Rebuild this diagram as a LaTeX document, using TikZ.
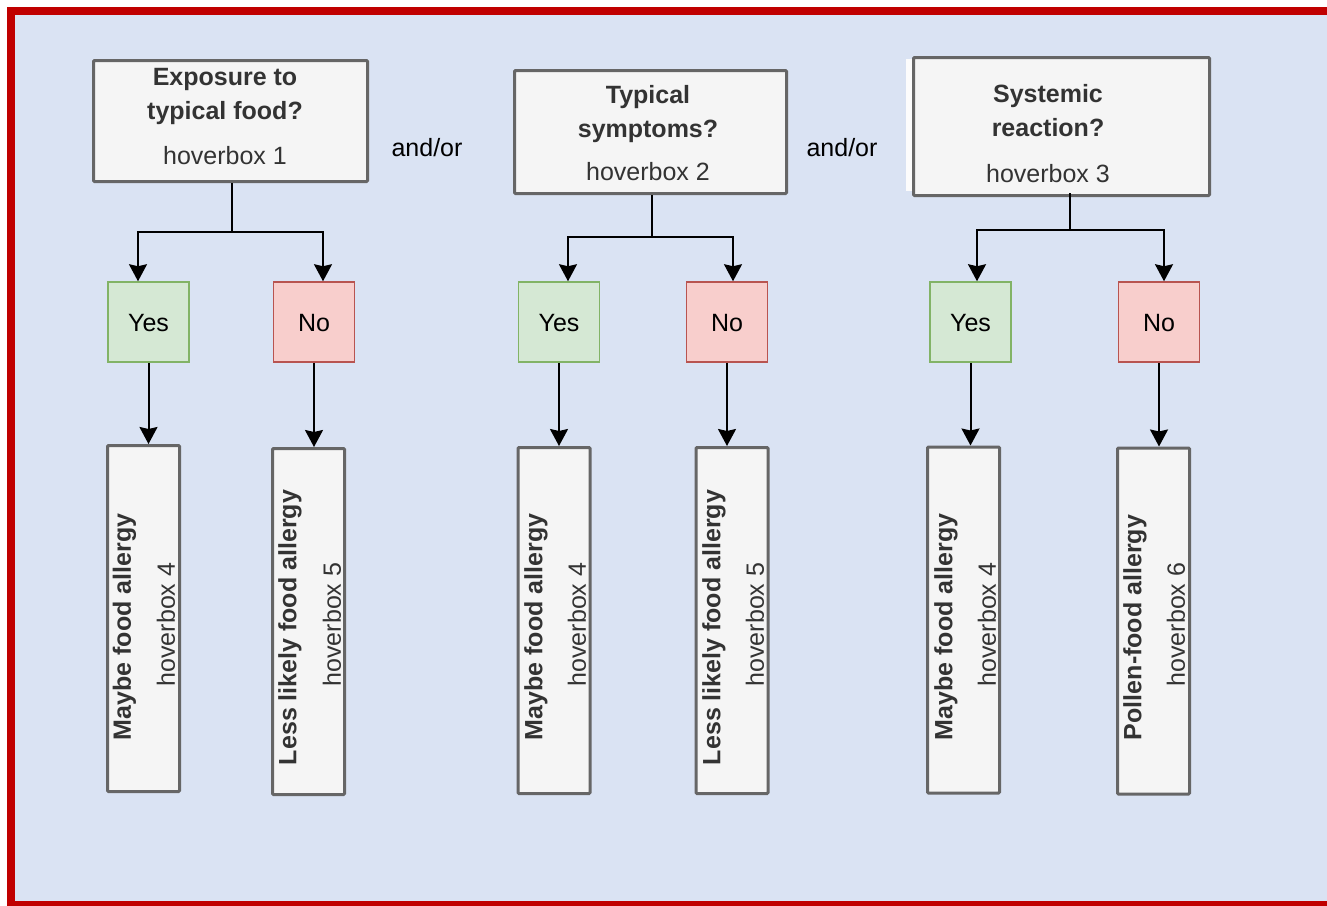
\documentclass[tikz,border=0pt]{standalone}
\usepackage{fontspec}
\setmainfont{Liberation Sans}
\usetikzlibrary{arrows.meta}
\definecolor{bgblue}{RGB}{218,227,243}
\definecolor{framered}{RGB}{192,0,0}
\definecolor{boxfill}{RGB}{245,245,245}
\definecolor{boxline}{RGB}{102,102,102}
\definecolor{gfill}{RGB}{213,232,212}
\definecolor{gline}{RGB}{130,179,102}
\definecolor{rfill}{RGB}{248,206,204}
\definecolor{rline}{RGB}{184,84,80}
\definecolor{txt}{RGB}{51,51,51}
\tikzset{
  fnt/.style={font=\fontsize{25}{30}\selectfont},
  qbox/.style={draw=boxline, fill=boxfill, line width=3pt, rounded corners=1pt, inner sep=0pt},
  yesbox/.style={draw=gline, fill=gfill, line width=1.5pt, minimum width=81pt, minimum height=80pt, inner sep=0pt},
  nobox/.style={draw=rline, fill=rfill, line width=1.5pt, minimum width=81pt, minimum height=80pt, inner sep=0pt},
  tallbox/.style={draw=boxline, fill=boxfill, line width=3pt, rounded corners=1pt, minimum width=72pt, minimum height=346pt, inner sep=0pt},
  btxt/.style={fnt, text=txt, font=\fontsize{25}{30}\selectfont\bfseries, inner sep=0pt, anchor=base},
  htxt/.style={fnt, text=txt, inner sep=0pt, anchor=base},
  ytxt/.style={fnt, text=black, inner sep=0pt, anchor=base},
  vbold/.style={text=txt, font=\fontsize{25}{30}\selectfont\bfseries, inner sep=0pt, rotate=90, anchor=center},
  vhov/.style={text=txt, font=\fontsize{25}{30}\selectfont, inner sep=0pt, rotate=90, anchor=center},
  arr/.style={draw=black, line width=2pt, -{Stealth[length=17pt,width=18pt,inset=2pt]}},
}
\begin{document}
\begin{tikzpicture}[x=1pt,y=-1pt]
\useasboundingbox (0,0) rectangle (1327,905);
\clip (0,0) rectangle (1327,905);
\fill[white] (0,0) rectangle (1327,905);
\draw[framered, line width=8pt, fill=bgblue] (11,11) rectangle (1345,904.5);

% question boxes
\fill[white!70!boxfill] (906,59) rectangle (1204,191);
\node[qbox, minimum width=274pt, minimum height=121pt] (b1) at (230.5,121) {};
\node[qbox, minimum width=272pt, minimum height=123pt] (b2) at (650.5,132) {};
\node[qbox, minimum width=296pt, minimum height=138pt] (b3) at (1061.5,126.5) {};

\node[btxt] (b1a) at (225,85) {Exposure to};
\node[btxt] (b1b) at (225,119) {typical food?};
\node[htxt] (b1c) at (225,164) {hoverbox 1};
\node[btxt] (b2a) at (648,103) {Typical};
\node[btxt] (b2b) at (648,137) {symptoms?};
\node[htxt] (b2c) at (648,180) {hoverbox 2};
\node[btxt] (b3a) at (1048,102) {Systemic};
\node[btxt] (b3b) at (1048,136) {reaction?};
\node[htxt] (b3c) at (1048,182) {hoverbox 3};

\node[ytxt] (ao1) at (427,156) {and/or};
\node[ytxt] (ao2) at (842,156) {and/or};

% yes / no boxes
\node[yesbox] (y1) at (148.5,322) {};
\node[nobox]  (n1) at (314,322) {};
\node[yesbox] (y2) at (559,322) {};
\node[nobox]  (n2) at (727,322) {};
\node[yesbox] (y3) at (970.5,322) {};
\node[nobox]  (n3) at (1159,322) {};
\node[ytxt] (y1t) at (148.5,331) {Yes};
\node[ytxt] (n1t) at (314,331) {No};
\node[ytxt] (y2t) at (559,331) {Yes};
\node[ytxt] (n2t) at (727,331) {No};
\node[ytxt] (y3t) at (970.5,331) {Yes};
\node[ytxt] (n3t) at (1159,331) {No};

% tall result boxes
\node[tallbox] (t1) at (143.5,618.5) {};
\node[tallbox] (t2) at (308.5,621.5) {};
\node[tallbox] (t3) at (554,620.5) {};
\node[tallbox] (t4) at (732,620.5) {};
\node[tallbox] (t5) at (963.5,620) {};
\node[tallbox] (t6) at (1153.5,621) {};

\node[vbold] (t1a) at (124.5,627) {Maybe food allergy};
\node[vhov]  (t1b) at (166,624.5) {hoverbox 4};
\node[vbold] (t2a) at (290,627.5) {Less likely food allergy};
\node[vhov]  (t2b) at (332,624.5) {hoverbox 5};
\node[vbold] (t3a) at (536,627) {Maybe food allergy};
\node[vhov]  (t3b) at (577,624.5) {hoverbox 4};
\node[vbold] (t4a) at (714,627.5) {Less likely food allergy};
\node[vhov]  (t4b) at (755,624.5) {hoverbox 5};
\node[vbold] (t5a) at (946,627) {Maybe food allergy};
\node[vhov]  (t5b) at (987,624.5) {hoverbox 4};
\node[vbold] (t6a) at (1135,627.5) {Pollen-food allergy};
\node[vhov]  (t6b) at (1176,624.5) {hoverbox 6};

% junctions
\coordinate (j1) at (232,232);
\coordinate (j2) at (652,237);
\coordinate (j3) at (1070,230);

\draw[line width=2pt] (b1.south -| j1) -- (j1);
\draw[arr] (j1) -| ([xshift=-10.5pt]y1.north);
\draw[arr] (j1) -| ([xshift=9pt]n1.north);
\draw[line width=2pt] (b2.south -| j2) -- (j2);
\draw[arr] (j2) -| ([xshift=9pt]y2.north);
\draw[arr] (j2) -| ([xshift=6pt]n2.north);
\draw[line width=2pt] ([yshift=4pt]b3.south -| j3) -- (j3);
\draw[arr] (j3) -| ([xshift=6.5pt]y3.north);
\draw[arr] (j3) -| ([xshift=5pt]n3.north);

\draw[arr] (y1.south) -- (y1.south |- t1.north);
\draw[arr] (n1.south) -- (n1.south |- t2.north);
\draw[arr] (y2.south) -- (y2.south |- t3.north);
\draw[arr] (n2.south) -- (n2.south |- t4.north);
\draw[arr] (y3.south) -- (y3.south |- t5.north);
\draw[arr] (n3.south) -- (n3.south |- t6.north);
\end{tikzpicture}
\end{document}
